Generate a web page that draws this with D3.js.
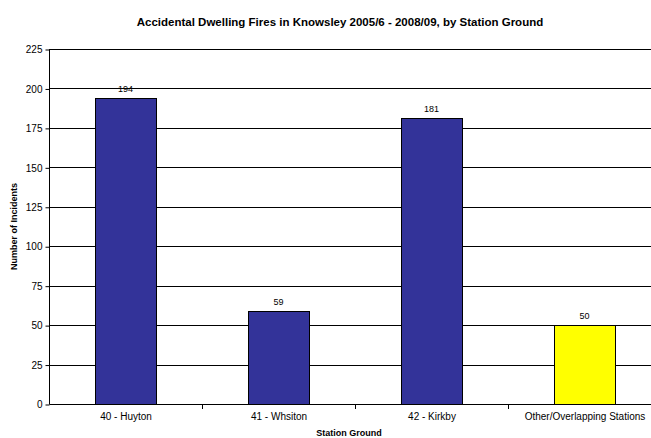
<!DOCTYPE html>
<html><head><meta charset="utf-8">
<script src="https://cdn.jsdelivr.net/npm/d3@7"></script>
<style>body{margin:0;background:#fff}svg{display:block;font-family:"Liberation Sans",Arial,sans-serif}</style>
</head><body>
<svg id="c" width="651" height="438"></svg>
<script>
const categories = ["40 - Huyton", "41 - Whsiton", "42 - Kirkby", "Other/Overlapping Stations"];
const values = [194, 59, 181, 50];
const barColors = ["#333399", "#333399", "#333399", "#FFFF00"];
const yTicks = [0, 25, 50, 75, 100, 125, 150, 175, 200, 225];

const svg = d3.select("#c");
const L = 49, R = 661, T = 49, B = 404;
const x = d3.scaleBand().domain(categories).range([L, R]).paddingInner(0).paddingOuter(0);
const y = d3.scaleLinear().domain([0, 225]).range([B, T]);

// gridlines
svg.append("g").selectAll("line").data(yTicks.filter(d => d > 0)).join("line")
  .attr("x1", L).attr("x2", R).attr("y1", d => Math.round(y(d)) + 0.5).attr("y2", d => Math.round(y(d)) + 0.5)
  .attr("stroke", "#000").attr("stroke-width", 1);

// bars
const bw = x.bandwidth() * 0.4;
svg.append("g").selectAll("rect").data(values).join("rect")
  .attr("x", (d, i) => Math.round(x(categories[i]) + x.bandwidth() / 2 - bw / 2) + 0.5)
  .attr("y", d => Math.round(y(d)) + 0.5)
  .attr("width", Math.round(bw))
  .attr("height", d => Math.round(y(0)) - Math.round(y(d)))
  .attr("fill", (d, i) => barColors[i]).attr("stroke", "#000").attr("stroke-width", 1);

// value labels
svg.append("g").selectAll("text").data(values).join("text")
  .attr("x", (d, i) => x(categories[i]) + x.bandwidth() / 2)
  .attr("y", d => y(d) - 6)
  .attr("text-anchor", "middle").attr("font-size", 9).attr("fill", "#000")
  .text(d => d);

// y axis
const yAxis = d3.axisLeft(y).tickValues(yTicks).tickSize(4).tickPadding(3);
const ga = svg.append("g").attr("transform", `translate(${L + 0.5},0.5)`).call(yAxis);
ga.select(".domain").attr("stroke", "#000").attr("d", `M0,${T}V${B}`);
ga.selectAll(".tick line").attr("stroke", "#000");
ga.selectAll(".tick text").attr("font-size", 10).attr("fill", "#000").attr("font-family", "Liberation Sans, Arial, sans-serif");

// x axis
const xAxis = d3.axisBottom(x).tickSize(0).tickPadding(0);
const gx = svg.append("g").attr("transform", `translate(0.5,${B + 0.5})`).call(xAxis);
gx.select(".domain").attr("stroke", "#000").attr("d", `M${L},0H${R}`);
gx.selectAll(".tick text").attr("font-size", 10).attr("fill", "#000").attr("dy", "1.5em")
  .attr("font-family", "Liberation Sans, Arial, sans-serif");
// category boundary ticks
svg.append("g").selectAll("line").data(categories.slice(1)).join("line")
  .attr("x1", d => Math.round(x(d)) + 0.5).attr("x2", d => Math.round(x(d)) + 0.5)
  .attr("y1", B).attr("y2", B + 5).attr("stroke", "#000");

// titles
svg.append("text").attr("x", 340).attr("y", 26).attr("text-anchor", "middle")
  .attr("font-size", 11.5).attr("font-weight", "bold").text("Accidental Dwelling Fires in Knowsley 2005/6 - 2008/09, by Station Ground");
svg.append("text").attr("x", 349).attr("y", 436).attr("text-anchor", "middle")
  .attr("font-size", 9).attr("font-weight", "bold").text("Station Ground");
svg.append("text").attr("transform", `translate(17,${(T + B) / 2}) rotate(-90)`).attr("text-anchor", "middle")
  .attr("font-size", 9).attr("font-weight", "bold").text("Number of Incidents");
</script>
</body></html>
